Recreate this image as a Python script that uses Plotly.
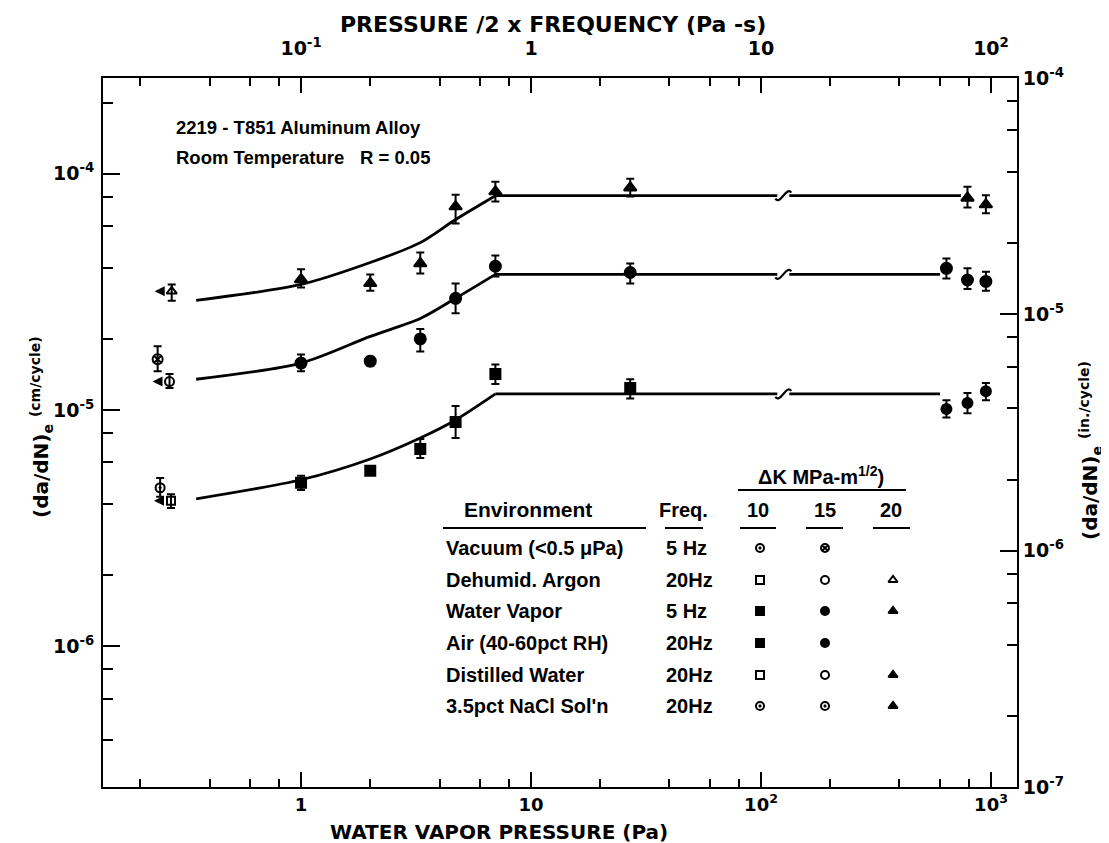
import math
import plotly.graph_objects as go

# ---------------- data ----------------
# water vapour pressure (Pa) and (da/dN)e (cm/cycle)
# Delta K = 10 MPa-m^1/2
vac10_p = [0.244]; vac10_v = [4.69e-6]; vac10_hi = [5.16e-6]; vac10_lo = [4.30e-6]
arg10_p = [0.272]; arg10_v = [4.13e-6]; arg10_hi = [4.40e-6]; arg10_lo = [3.85e-6]
wv10_p = [1.0, 2.0, 3.3, 4.7, 7.0, 27.0]
wv10_v = [4.92e-6, 5.53e-6, 6.84e-6, 8.90e-6, 1.42e-5, 1.24e-5]
wv10_hi = [5.27e-6, 5.70e-6, 7.55e-6, 1.04e-5, 1.56e-5, 1.35e-5]
wv10_lo = [4.59e-6, 5.36e-6, 6.27e-6, 7.62e-6, 1.29e-5, 1.12e-5]
sol10_p = [640, 790, 950]
sol10_v = [1.01e-5, 1.07e-5, 1.20e-5]
sol10_hi = [1.10e-5, 1.18e-5, 1.30e-5]
sol10_lo = [0.93e-5, 0.97e-5, 1.10e-5]

# Delta K = 15
vac15_p = [0.238]; vac15_v = [1.64e-5]; vac15_hi = [1.86e-5]; vac15_lo = [1.46e-5]
arg15_p = [0.268]; arg15_v = [1.32e-5]; arg15_hi = [1.42e-5]; arg15_lo = [1.24e-5]
wv15_p = [1.0, 2.0, 3.3, 4.7, 7.0, 27.0]
wv15_v = [1.58e-5, 1.61e-5, 2.00e-5, 2.97e-5, 4.06e-5, 3.82e-5]
wv15_hi = [1.72e-5, 1.68e-5, 2.20e-5, 3.43e-5, 4.51e-5, 4.17e-5]
wv15_lo = [1.46e-5, 1.54e-5, 1.77e-5, 2.57e-5, 3.67e-5, 3.43e-5]
sol15_p = [640, 790, 950]
sol15_v = [3.98e-5, 3.55e-5, 3.50e-5]
sol15_hi = [4.38e-5, 3.98e-5, 3.85e-5]
sol15_lo = [3.60e-5, 3.25e-5, 3.20e-5]

# Delta K = 20
arg20_p = [0.274]; arg20_v = [3.18e-5]; arg20_hi = [3.40e-5]; arg20_lo = [2.90e-5]
wv20_p = [1.0, 2.0, 3.3, 4.7, 7.0, 27.0]
wv20_v = [3.57e-5, 3.44e-5, 4.17e-5, 7.26e-5, 8.40e-5, 8.73e-5]
wv20_hi = [3.94e-5, 3.75e-5, 4.64e-5, 8.15e-5, 9.25e-5, 9.52e-5]
wv20_lo = [3.30e-5, 3.20e-5, 3.78e-5, 6.15e-5, 7.62e-5, 8.00e-5]
sol20_p = [790, 950]
sol20_v = [7.90e-5, 7.40e-5]
sol20_hi = [8.80e-5, 8.10e-5]
sol20_lo = [7.20e-5, 6.80e-5]

# fitted curves
curve_p = [0.35, 1.0, 2.0, 3.3, 4.7, 7.0]
curve10 = [4.21e-6, 5.07e-6, 6.21e-6, 7.62e-6, 9.08e-6, 1.17e-5]
curve15 = [1.35e-5, 1.58e-5, 2.05e-5, 2.44e-5, 2.97e-5, 3.75e-5]
curve20 = [2.91e-5, 3.40e-5, 4.21e-5, 5.11e-5, 6.40e-5, 8.07e-5]
plateau_end = [600, 600, 740]
break_p = 125  # axis-break mark on the plateau lines

# axis ticks
x_major = [1, 10, 100, 1000]
x_major_text = ["1", "10", "10<sup>2</sup>", "10<sup>3</sup>"]
x_minor = [m * 10.0 ** e for e in range(-1, 3) for m in (2, 4, 6, 8)]
x2_major = [0.1, 1, 10, 100]
x2_major_text = ["10<sup>-1</sup>", "1", "10", "10<sup>2</sup>"]
x2_minor = [m * 10.0 ** e for e in range(-2, 2) for m in (2, 4, 6, 8)]
y_major = [1e-6, 1e-5, 1e-4]
y_major_text = ["10<sup>-6</sup>", "10<sup>-5</sup>", "10<sup>-4</sup>"]
y_minor = [m * 10.0 ** e for e in range(-7, -3) for m in (2, 4, 6, 8)]
y2_major = [1e-7, 1e-6, 1e-5, 1e-4]
y2_major_text = ["10<sup>-7</sup>", "10<sup>-6</sup>", "10<sup>-5</sup>", "10<sup>-4</sup>"]
y2_minor = [m * 10.0 ** e for e in range(-7, -4) for m in (2, 4, 6, 8)]

# legend table
env_rows = ["Vacuum (&lt;0.5 \u03bcPa)", "Dehumid. Argon", "Water Vapor",
            "Air (40-60pct RH)", "Distilled Water", "3.5pct NaCl Sol'n"]
freq_rows = ["5 Hz", "20Hz", "5 Hz", "20Hz", "20Hz", "20Hz"]
dk_cols = ["10", "15", "20"]
table_symbols = [
    ["circle-open-dot", "circle-x-open", None],
    ["square-open", "circle-open", "triangle-up-open"],
    ["square", "circle", "triangle-up"],
    ["square", "circle", None],
    ["square-open", "circle-open", "triangle-up"],
    ["circle-open-dot", "circle-open-dot", "triangle-up"],
]

# ---------------- layout geometry (pixels) ----------------
W, H = 1109, 843
PX0, PX1, PY0, PY1 = 95, 1009, 70, 779
FONT = "DejaVu Sans"
TFONT = "Liberation Sans"
X_RANGE = [-0.861, 3.113]
Y_RANGE = [-6.595, -3.595]


def px(x):
    return (x - PX0) / (PX1 - PX0)


def py(y):
    return (PY1 - y) / (PY1 - PY0)


fig = go.Figure()


def add_points(p, v, hi, lo, symbol, size, lw=2):
    fig.add_trace(go.Scatter(
        x=p, y=v, mode="markers",
        marker=dict(symbol=symbol, size=size, color="black",
                    line=dict(color="black", width=lw)),
        error_y=dict(type="data", symmetric=False,
                     array=[h - a for h, a in zip(hi, v)],
                     arrayminus=[a - l for a, l in zip(v, lo)],
                     color="black", thickness=2, width=4),
        showlegend=False, hoverinfo="x+y"))


def add_curve(cv, end):
    fig.add_trace(go.Scatter(x=curve_p, y=cv, mode="lines",
                             line=dict(color="black", width=2.8, shape="spline", smoothing=0.8),
                             showlegend=False, hoverinfo="skip"))
    fig.add_trace(go.Scatter(x=[curve_p[-1], end], y=[cv[-1], cv[-1]], mode="lines",
                             line=dict(color="black", width=2.8),
                             showlegend=False, hoverinfo="skip"))


add_curve(curve10, plateau_end[0])
add_curve(curve15, plateau_end[1])
add_curve(curve20, plateau_end[2])

# Delta K = 10
add_points(vac10_p, vac10_v, vac10_hi, vac10_lo, "circle-open-dot", 9)
add_points(arg10_p, arg10_v, arg10_hi, arg10_lo, "square-open", 8)
add_points(wv10_p, wv10_v, wv10_hi, wv10_lo, "square", 10)
add_points(sol10_p, sol10_v, sol10_hi, sol10_lo, "circle", 10)
# Delta K = 15
add_points(vac15_p, vac15_v, vac15_hi, vac15_lo, "circle-x-open", 10)
add_points(arg15_p, arg15_v, arg15_hi, arg15_lo, "circle-open", 9)
add_points(wv15_p, wv15_v, wv15_hi, wv15_lo, "circle", 11)
add_points(sol15_p, sol15_v, sol15_hi, sol15_lo, "circle", 11)
# Delta K = 20
add_points(arg20_p, arg20_v, arg20_hi, arg20_lo, "triangle-up-open", 9)
add_points(wv20_p, wv20_v, wv20_hi, wv20_lo, "triangle-up", 11)
add_points(sol20_p, sol20_v, sol20_hi, sol20_lo, "triangle-up", 11)

# invisible traces tying the secondary axes to the data
fig.add_trace(go.Scatter(x=[p / (2 * 5) for p in wv15_p], y=wv15_v, xaxis="x2", yaxis="y",
                         mode="markers", marker=dict(opacity=0), showlegend=False, hoverinfo="skip"))
fig.add_trace(go.Scatter(x=wv15_p, y=[v / 2.54 for v in wv15_v], xaxis="x", yaxis="y2",
                         mode="markers", marker=dict(opacity=0), showlegend=False, hoverinfo="skip"))

# legend-table symbols on a hidden linear overlay
col_x = [752, 817, 885]
row_y = [540, 572, 603, 635, 667, 698]
for r, row in enumerate(table_symbols):
    for c, sym in enumerate(row):
        if sym is None:
            continue
        fig.add_trace(go.Scatter(
            x=[px(col_x[c])], y=[py(row_y[r])], xaxis="x3", yaxis="y3", mode="markers",
            marker=dict(symbol=sym, size=8, color="black", line=dict(color="black", width=2)),
            showlegend=False, hoverinfo="skip"))

annotations = []


def text(x, y, s, size=18, xanchor="left", angle=0, family=TFONT):
    annotations.append(dict(x=px(x), y=py(y), xref="paper", yref="paper", text=s,
                            showarrow=False, xanchor=xanchor, yanchor="middle",
                            textangle=angle,
                            font=dict(family=family, size=size, color="black", weight="bold")))


# left-pointing arrows on argon points (annotation positions are log10 on log axes)
for p, v in [(arg10_p[0], arg10_v[0]), (arg15_p[0], arg15_v[0]), (arg20_p[0], arg20_v[0])]:
    annotations.append(dict(x=math.log10(p), y=math.log10(v), xref="x", yref="y", text="",
                            showarrow=True, arrowhead=2, arrowsize=1, arrowwidth=2,
                            arrowcolor="black", ax=11, ay=0, xshift=-17))

text(166, 119, "2219 - T851 Aluminum Alloy", 18.5)
text(166, 149, "Room Temperature", 18.5)
text(350, 149, "R = 0.05", 18.5)

# axis titles
text(491, 824, "WATER VAPOR PRESSURE (Pa)", 20, "center", family=FONT)
text(545, 17, "PRESSURE /2 x FREQUENCY (Pa -s)", 22, "center", family=FONT)
text(33, 419, "(da/dN)<sub>e</sub> <sup>(cm/cycle)</sup>", 20, "center", -90, family=FONT)
text(1082, 443, "(da/dN)<sub>e</sub> <sup>(in./cycle)</sup>", 20, "center", -90, family=FONT)

# table
text(813, 467, "\u0394K MPa-m<sup>1/2</sup>)", 20, "center")
text(520, 502, "Environment", 21, "center")
text(675, 502, "Freq.", 20, "center")
for c, lab in enumerate(dk_cols):
    text([750, 817, 883][c], 502, lab, 20, "center")
for r in range(len(env_rows)):
    text(436, row_y[r], env_rows[r], 20)
    text(656, row_y[r], freq_rows[r], 20)

shapes = []
for x0, x1, y in [(730, 898, 482), (435, 638, 520), (657, 695, 520),
                  (732, 768, 520), (798, 835, 520), (865, 902, 520)]:
    shapes.append(dict(type="line", xref="paper", yref="paper", x0=px(x0), x1=px(x1),
                       y0=py(y), y1=py(y), line=dict(color="black", width=2)))

# axis-break marks on the plateau lines (shape anchors are data values)
for cv in (curve10, curve15, curve20):
    common = dict(type="path", xref="x", yref="y", xsizemode="pixel", ysizemode="pixel",
                  xanchor=break_p, yanchor=cv[-1], layer="above")
    shapes.append(dict(common, path="M-6,0 L6,0", line=dict(color="white", width=6)))
    shapes.append(dict(common, path="M-8,-3 C-3,-10 3,10 8,3", line=dict(color="black", width=2.2)))

axis_common = dict(type="log", showline=True, linecolor="black", linewidth=2,
                   ticks="inside", tickcolor="black", tickwidth=2, showgrid=False,
                   zeroline=False, tickmode="array",
                   tickfont=dict(family=FONT, size=19, color="black", weight="bold"))

fig.update_layout(
    width=W, height=H, plot_bgcolor="white", paper_bgcolor="white",
    margin=dict(l=PX0, r=W - PX1, t=PY0, b=H - PY1),
    showlegend=False,
    xaxis=dict(axis_common, range=X_RANGE, tickvals=x_major, ticktext=x_major_text, ticklen=15,
               ticklabelstandoff=0,
               tickfont=dict(family=FONT, size=18, color="black", weight="bold"),
               minor=dict(tickmode="array", tickvals=x_minor, ticks="inside", ticklen=8,
                          tickwidth=2, tickcolor="black"), anchor="y"),
    xaxis2=dict(axis_common, range=[X_RANGE[0] - 1, X_RANGE[1] - 1], tickvals=x2_major,
                ticktext=x2_major_text, ticklen=15, overlaying="x", side="top", anchor="y",
                ticklabelstandoff=13,
                minor=dict(tickmode="array", tickvals=x2_minor, ticks="inside", ticklen=8,
                           tickwidth=2, tickcolor="black")),
    yaxis=dict(axis_common, range=Y_RANGE, tickvals=y_major, ticktext=y_major_text, ticklen=17,
               ticklabelstandoff=3,
               minor=dict(tickmode="array", tickvals=y_minor, ticks="inside", ticklen=10,
                          tickwidth=2, tickcolor="black"), anchor="x"),
    yaxis2=dict(axis_common, range=[-7, -4], tickvals=y2_major, ticktext=y2_major_text,
                ticklen=17, overlaying="y", side="right", anchor="x",
                minor=dict(tickmode="array", tickvals=y2_minor, ticks="inside", ticklen=10,
                           tickwidth=2, tickcolor="black")),
    xaxis3=dict(range=[0, 1], overlaying="x", visible=False, anchor="y3"),
    yaxis3=dict(range=[0, 1], overlaying="y", visible=False, anchor="x3"),
    annotations=annotations, shapes=shapes,
)

fig.write_html("out.html")
